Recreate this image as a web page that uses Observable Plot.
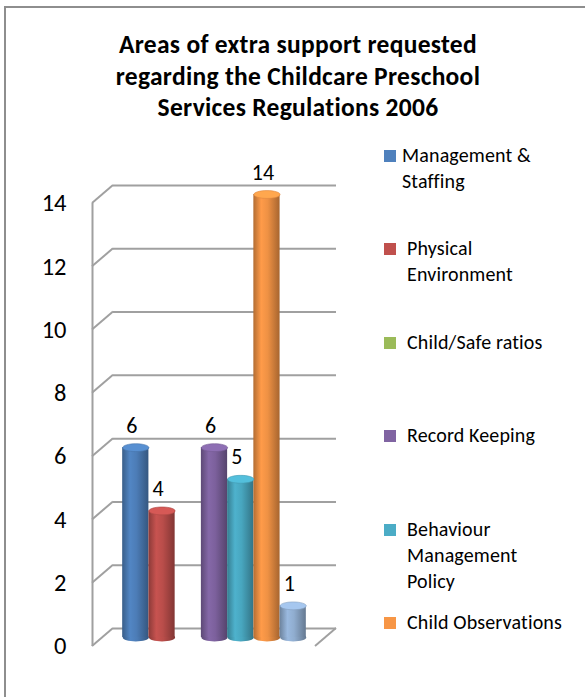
<!DOCTYPE html>
<html>
<head>
<meta charset="utf-8">
<script src="https://cdn.jsdelivr.net/npm/d3@7"></script>
<script src="https://cdn.jsdelivr.net/npm/@observablehq/plot@0.6"></script>
<style>
  html, body { margin: 0; padding: 0; background: #fff; }
  #page { position: relative; width: 585px; height: 697px; overflow: hidden; font-family: Calibri, Carlito, "Open Sans", sans-serif; color: #000; }
  #frame { position: absolute; left: 4px; top: 6px; width: 700px; height: 800px; border: 2px solid #8e8e8e; box-sizing: border-box; }
  #chart { position: absolute; left: 0; top: 0; }
  #title { position: absolute; left: 48px; width: 500px; top: 29px; text-align: center; font-weight: bold; font-size: 25.5px; line-height: 31.5px; letter-spacing: 0.3px; white-space: nowrap; }
  #legend { position: absolute; left: 384px; top: 142px; }
  .item { position: relative; height: 93.4px; }
  .sw { position: absolute; left: 0; top: 8px; width: 12px; height: 12px; }
  .lab { position: absolute; left: 18px; top: 0; width: 200px; font-size: 20px; line-height: 26px; letter-spacing: 0.15px; white-space: nowrap; }
  .lab.sp { text-indent: 5px; }
</style>
</head>
<body>
<div id="page">
  <div id="frame"></div>
  <div id="chart"></div>
  <div id="title"></div>
  <div id="legend"></div>
</div>
<script>
// ---- data ----
const titleLines = ["Areas of extra support requested", "regarding the Childcare Preschool", "Services Regulations 2006"];
const categories = ["Management & Staffing", "Physical Environment", "Child/Safe ratios", "Record Keeping", "Behaviour Management Policy", "Child Observations", "Other"];
const legendLines = [["Management &", "Staffing"], ["Physical", "Environment"], ["Child/Safe ratios"], ["Record Keeping"], ["Behaviour", "Management", "Policy"], ["Child Observations"]];
const values = [6, 4, 0, 6, 5, 14, 1];
const colors = ["#4F81BD", "#C0504D", "#9BBB59", "#8064A2", "#4BACC6", "#F79646", "#95B3D7"];
const yTicks = [0, 2, 4, 6, 8, 10, 12, 14];

const rows = categories.map((c, i) => ({category: c, index: i, value: values[i], color: colors[i]}));

// ---- layout ----
const W = 585, H = 697;
const mLeft = 102.5, mRight = 259.5, mTop = 194, mBottom = 60;
const xDomain = [-0.75, categories.length + 0.75];
const depthX = 10.5, depthY = 9;
const gridColor = "#a0a0a0";
const font = "Calibri, Carlito, 'Open Sans', sans-serif";
const barW = (W - mLeft - mRight) / (xDomain[1] - xDomain[0]);

// ellipse symbol for cylinder caps
const ellipse = {
  draw(ctx, size) {
    const rx = Math.sqrt(size / Math.PI), ry = rx * 0.3, k = 0.5523;
    ctx.moveTo(rx, 0);
    ctx.bezierCurveTo(rx, k * ry, k * rx, ry, 0, ry);
    ctx.bezierCurveTo(-k * rx, ry, -rx, k * ry, -rx, 0);
    ctx.bezierCurveTo(-rx, -k * ry, -k * rx, -ry, 0, -ry);
    ctx.bezierCurveTo(k * rx, -ry, rx, -k * ry, rx, 0);
    ctx.closePath();
  }
};

function gradientDefs() {
  const defs = d3.create("svg:defs");
  rows.forEach(d => {
    const c = d3.color(d.color);
    const g = defs.append("linearGradient").attr("id", `cyl-${d.index}`)
      .attr("x1", 0).attr("x2", 1).attr("y1", 0).attr("y2", 0);
    g.append("stop").attr("offset", "0%").attr("stop-color", c.darker(0.9).formatHex());
    g.append("stop").attr("offset", "30%").attr("stop-color", c.brighter(0.1).formatHex());
    g.append("stop").attr("offset", "55%").attr("stop-color", c.darker(0.1).formatHex());
    g.append("stop").attr("offset", "100%").attr("stop-color", c.darker(1.1).formatHex());
  });
  return defs.node();
}

function depthLines(index, scales) {
  const {x, y} = scales;
  const g = d3.create("svg:g").attr("stroke", gridColor).attr("stroke-width", 2).attr("fill", "none");
  const xl = x(xDomain[0]), xr = x(xDomain[1]);
  for (const t of yTicks) {
    g.append("line").attr("x1", xl - depthX).attr("y1", y(t) + depthY).attr("x2", xl + depthX).attr("y2", y(t) - depthY);
  }
  g.append("line").attr("x1", xr - depthX).attr("y1", y(0) + depthY).attr("x2", xr + depthX).attr("y2", y(0) - depthY);
  return g.node();
}

const shown = d => d.value > 0;

const chart = Plot.plot({
  width: W, height: H,
  marginLeft: mLeft, marginRight: mRight, marginTop: mTop, marginBottom: mBottom,
  style: {fontFamily: font, background: "transparent", color: "#000", overflow: "visible"},
  x: {type: "linear", domain: xDomain, axis: null},
  y: {domain: [0, 14], axis: null},
  color: {type: "identity"},
  marks: [
    gradientDefs,
    Plot.ruleY(yTicks, {stroke: gridColor, strokeWidth: 2, dx: depthX, dy: -depthY}),
    Plot.ruleX([xDomain[0]], {y1: 0, y2: 14, stroke: gridColor, strokeWidth: 2, dx: -depthX, dy: depthY}),
    depthLines,
    Plot.text(yTicks, {x: () => xDomain[0], y: d => d, text: d => String(d), textAnchor: "end", dx: -36.5, dy: depthY, fontSize: 24.5, fill: "#000"}),
    Plot.dot(rows, {filter: shown, x: d => d.index + 0.5, y: () => 0, r: barW / 2, symbol: ellipse, fill: d => `url(#cyl-${d.index})`, stroke: "none"}),
    Plot.rect(rows, {filter: shown, x1: d => d.index, x2: d => d.index + 1, y1: 0, y2: d => d.value, fill: d => `url(#cyl-${d.index})`, inset: 0}),
    Plot.dot(rows, {filter: shown, x: d => d.index + 0.5, y: d => d.value, r: barW / 2, symbol: ellipse, fill: d => d3.color(d.color).brighter(0.3).formatHex(), stroke: d => d3.color(d.color).darker(0.3).formatHex(), strokeWidth: 0.6}),
    Plot.text(rows, {filter: shown, x: d => d.index + 0.5, y: d => d.value, text: d => String(d.value), dy: -22, dx: -4, fontSize: 22, fill: "#000"})
  ]
});
document.getElementById("chart").appendChild(chart);

// title
const title = document.getElementById("title");
titleLines.forEach(t => { const d = document.createElement("div"); d.textContent = t; title.appendChild(d); });

// legend
const legend = document.getElementById("legend");
legendLines.forEach((lines, i) => {
  const item = document.createElement("div"); item.className = "item";
  const sw = document.createElement("div"); sw.className = "sw"; sw.style.background = colors[i];
  const lab = document.createElement("div"); lab.className = "lab" + (i > 0 ? " sp" : "");
  lines.forEach(l => { const d = document.createElement("div"); d.textContent = l; lab.appendChild(d); });
  item.appendChild(sw); item.appendChild(lab); legend.appendChild(item);
});
</script>
</body>
</html>
